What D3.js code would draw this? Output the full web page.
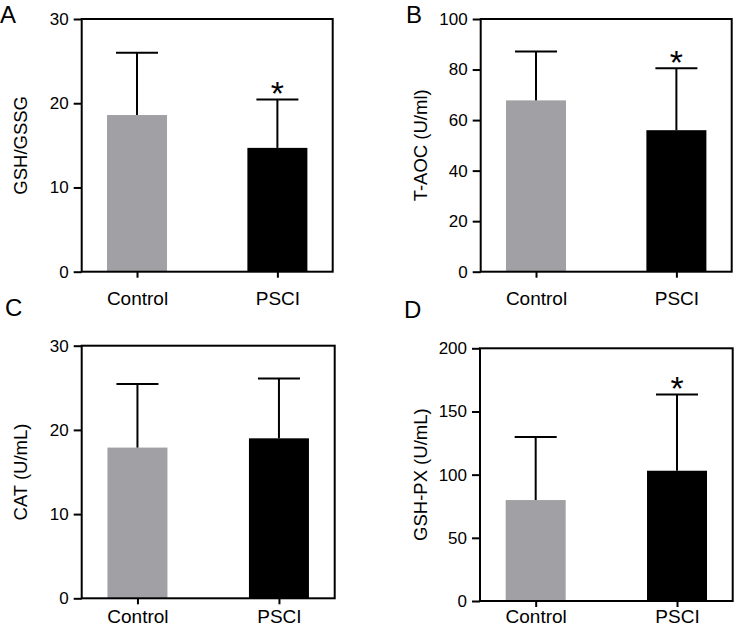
<!DOCTYPE html>
<html>
<head>
<meta charset="utf-8">
<script src="https://cdn.jsdelivr.net/npm/d3@7"></script>
<style>
  body { margin: 0; background: #fff; }
  svg { display: block; font-family: "Liberation Sans", Arial, sans-serif; }
</style>
</head>
<body>
<svg id="chart" width="741" height="629"></svg>
<script>
// data
var groups = ['Control', 'PSCI'];
var panelLetters = ['A', 'B', 'C', 'D'];
var yTitles = ['GSH/GSSG', 'T-AOC (U/ml)', 'CAT (U/mL)', 'GSH-PX (U/mL)'];
var yMax = [30, 100, 30, 200];
var yTicks = [[0, 10, 20, 30], [0, 20, 40, 60, 80, 100], [0, 10, 20, 30], [0, 50, 100, 150, 200]];
var means = [[18.6, 14.7], [67.8, 56.0], [17.9, 19.0], [79.9, 103.1]];
var sds = [[7.4, 5.75], [19.3, 24.5], [7.55, 7.1], [49.8, 60.4]];
var significant = [[false, true], [false, true], [false, false], [false, true]];

var barColors = ['#a1a1a5', '#000000'];

// frame of each panel: left, top, width, height (+ letter, title and x label offsets)
var frames = [
	{x: 81.7, y: 19, w: 251, h: 252.7, lx: 0, ly: 22.7, tx: 21, xpad: 13.5},
	{x: 480.7, y: 19, w: 251, h: 252.7, lx: 406, ly: 22.7, tx: 421, xpad: 13.5},
	{x: 81.7, y: 345.7, w: 253, h: 252.6, lx: 5, ly: 316, tx: 21, xpad: 5.5},
	{x: 480, y: 348.3, w: 252.7, h: 252.7, lx: 404, ly: 318, tx: 421, xpad: 3}
];

var svg = d3.select('#chart');

frames.forEach(function(f, p) {
	var g = svg.append('g').attr('transform', 'translate(' + f.x + ',' + f.y + ')');

	var x = d3.scalePoint().domain(groups).range([0, f.w]).padding(0.394);
	var y = d3.scaleLinear().domain([0, yMax[p]]).range([f.h, 0]);
	var barW = 60;
	var capW = 42;

	// Bars
	g.selectAll('.bar')
		.data(groups)
		.enter()
		.append('rect')
		.attr('x', function(d) { return x(d) - barW / 2; })
		.attr('y', function(d, i) { return y(means[p][i]); })
		.attr('width', barW)
		.attr('height', function(d, i) { return f.h - y(means[p][i]); })
		.attr('fill', function(d, i) { return barColors[i]; });

	// Error bars (upper only)
	var err = g.selectAll('.err')
		.data(groups)
		.enter()
		.append('g')
		.attr('stroke', '#000')
		.attr('stroke-width', 2);
	err.append('line')
		.attr('x1', function(d) { return x(d); })
		.attr('x2', function(d) { return x(d); })
		.attr('y1', function(d, i) { return y(means[p][i]); })
		.attr('y2', function(d, i) { return y(means[p][i] + sds[p][i]); });
	err.append('line')
		.attr('x1', function(d) { return x(d) - capW / 2; })
		.attr('x2', function(d) { return x(d) + capW / 2; })
		.attr('y1', function(d, i) { return y(means[p][i] + sds[p][i]); })
		.attr('y2', function(d, i) { return y(means[p][i] + sds[p][i]); });

	// Significance stars
	g.selectAll('.star')
		.data(groups.filter(function(d, i) { return significant[p][i]; }))
		.enter()
		.append('text')
		.attr('x', function(d) { return x(d); })
		.attr('y', function(d) {
			var i = groups.indexOf(d);
			return y(means[p][i] + sds[p][i]) + 6;
		})
		.attr('text-anchor', 'middle')
		.style('font-size', '34px')
		.text('*');

	// Frame
	g.append('rect')
		.attr('width', f.w)
		.attr('height', f.h)
		.attr('fill', 'none')
		.attr('stroke', '#000')
		.attr('stroke-width', 2);

	// Axes
	var yAxis = g.append('g')
		.call(d3.axisLeft(y).tickValues(yTicks[p]).tickSize(8).tickPadding(5));
	var xAxis = g.append('g')
		.attr('transform', 'translate(0,' + f.h + ')')
		.call(d3.axisBottom(x).tickSize(6).tickPadding(f.xpad));
	[yAxis, xAxis].forEach(function(a) {
		a.select('.domain').remove();
		a.selectAll('line').attr('stroke-width', 2);
		a.selectAll('text').attr('fill', '#000').style('font-family', '"Liberation Sans", Arial, sans-serif');
	});
	yAxis.selectAll('text').style('font-size', '17px');
	xAxis.selectAll('text').style('font-size', '19px');

	// Y title
	svg.append('text')
		.attr('transform', 'translate(' + f.tx + ',' + (f.y + f.h / 2) + ') rotate(-90)')
		.attr('text-anchor', 'middle')
		.attr('dy', '0.35em')
		.style('font-size', '18.5px')
		.text(yTitles[p]);

	// Panel letter
	svg.append('text')
		.attr('x', f.lx)
		.attr('y', f.ly)
		.style('font-size', '24px')
		.text(panelLetters[p]);
});
</script>
</body>
</html>
